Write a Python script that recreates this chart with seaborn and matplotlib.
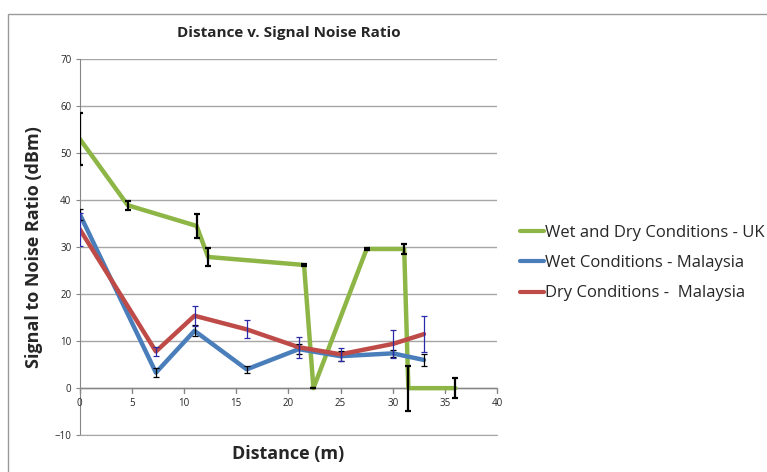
import numpy as np
import pandas as pd
import matplotlib.pyplot as plt
import seaborn as sns
from matplotlib.patches import Rectangle

# data
uk_x = [0, 4.6, 11.2, 12.3, 21.5, 22.4, 27.5, 31.1, 31.5, 36.0]
uk_y = [53, 38.9, 34.5, 27.9, 26.2, 0, 29.6, 29.6, 0, 0]
uk_err = [5.5, 1.0, 2.6, 2.0, 0.2, 0, 0.2, 1.0, 4.8, 2.1]

wet_x = [0, 7.3, 11, 16, 21, 25, 30, 33]
wet_y = [37, 3.3, 12.2, 4.0, 8.3, 6.8, 7.4, 6.0]
wet_err = [1.2, 1.0, 1.2, 0.8, 1.0, 1.0, 0.8, 1.2]

dry_x = [0, 7.3, 11, 16, 21, 25, 30, 33]
dry_y = [33.8, 7.8, 15.4, 12.5, 8.7, 7.2, 9.4, 11.5]
dry_err = [3.5, 1.0, 2.1, 1.9, 2.2, 1.4, 3.0, 3.8]

labels = ['Wet and Dry Conditions - UK', 'Wet Conditions - Malaysia', 'Dry Conditions -  Malaysia']
colors = ['#8DB646', '#4A7EBB', '#BE4B48']

sns.set_style('white')
plt.rcParams['font.family'] = ['Open Sans', 'DejaVu Sans']

fig = plt.figure(figsize=(7.67, 4.72), dpi=100)
ax = fig.add_axes([0.104, 0.078, 0.544, 0.797])

series = [(uk_x, uk_y, uk_err, 'black', 1.6),
          (wet_x, wet_y, wet_err, 'black', 0.9),
          (dry_x, dry_y, dry_err, '#2A2AA8', 0.9)]

for (x, y, e, ecol, elw), lab, col in zip(series, labels, colors):
    df = pd.DataFrame({'x': x, 'y': y})
    sns.lineplot(data=df, x='x', y='y', ax=ax, color=col, lw=3.2, label=lab,
                 sort=False, estimator=None)
    ax.errorbar(x, y, yerr=e, fmt='none', ecolor=ecol, elinewidth=elw,
                capsize=2.5, capthick=elw, zorder=3)

ax.set_xlim(0, 40)
ax.set_ylim(-10, 70)
ax.set_yticks(range(-10, 71, 10))
ax.set_xticks(range(0, 41, 5))
ax.grid(axis='y', color='#A6A6A6', lw=1)
ax.set_axisbelow(True)
for s in ['top', 'right']:
    ax.spines[s].set_visible(False)
ax.spines['bottom'].set_color('#A6A6A6')
ax.spines['left'].set_color('#868686')
ax.axhline(0, color='#868686', lw=1, zorder=1)
ax.tick_params(axis='y', labelsize=7, length=3, color='#868686', left=True, pad=3)
ax.tick_params(axis='x', labelsize=7, length=0, pad=3)
# x tick labels sit under the 0 line
ax.set_xticklabels([])
for t in range(0, 41, 5):
    ax.plot([t, t], [0, -1.0], color='#868686', lw=1, clip_on=False, zorder=1)
    ax.text(t, -2.0, str(t), ha='center', va='top', fontsize=7)

ax.set_xlabel('Distance (m)', fontsize=13, fontweight='bold', labelpad=4)
ax.set_ylabel('Signal to Noise Ratio (dBm)', fontsize=13, fontweight='bold', labelpad=8)
ax.set_title('Distance v. Signal Noise Ratio', fontsize=11, fontweight='bold', pad=16)

leg = ax.legend(loc='center left', bbox_to_anchor=(1.02, 0.457), frameon=False,
                fontsize=12, handlelength=1.4, handletextpad=0.1, labelspacing=0.85)
for h in leg.get_lines():
    h.set_linewidth(3)

fig.add_artist(Rectangle((8 / 767, -0.05), 1.0, 1 - 14 / 472 + 0.05, transform=fig.transFigure,
                         fill=False, edgecolor='#9A9A9A', lw=1))

fig.savefig('out.png', dpi=100)
